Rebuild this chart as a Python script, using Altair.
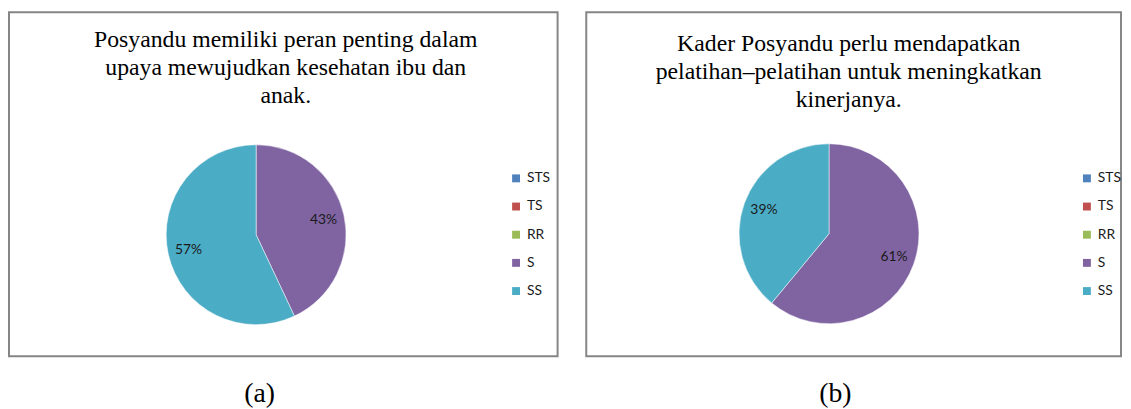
import altair as alt
import pandas as pd

categories = ["STS", "TS", "RR", "S", "SS"]
colors = ["#4F81BD", "#C0504D", "#9BBB59", "#8064A2", "#4BACC6"]
values_a = [0, 0, 0, 43, 57]
values_b = [0, 0, 0, 61, 39]
title_a = ["Posyandu memiliki peran penting dalam", "upaya mewujudkan kesehatan ibu dan", "anak."]
title_b = ["Kader Posyandu perlu mendapatkan", "pelatihan\u2013pelatihan untuk meningkatkan", "kinerjanya."]
caption_a = "(a)"
caption_b = "(b)"

SERIF = "Liberation Serif"
SANS = "Lato"
VIEW = {"stroke": "#858585", "strokeWidth": 2}


def panel(values, title_lines, caption, w, h, cx, cy, tx, ty, lx, capx):
    df = pd.DataFrame({"cat": categories, "val": values, "idx": list(range(len(categories)))})
    df["label"] = [f"{v}%" if v > 0 else "" for v in values]
    color = alt.Color(
        "cat:N",
        scale=alt.Scale(domain=categories, range=colors),
        sort=categories,
        legend=alt.Legend(
            title=None,
            orient="none",
            legendX=lx,
            legendY=161,
            symbolType="square",
            symbolSize=64,
            symbolStrokeWidth=0,
            labelFont=SANS,
            labelFontSize=14,
            labelColor="#1a1a1a",
            labelOffset=4,
            rowPadding=14.5,
            padding=0,
        ),
    )
    base = alt.Chart(df)
    arc = base.mark_arc(outerRadius=91, stroke="white", strokeWidth=0.5).encode(
        theta=alt.Theta("val:Q", stack=True),
        color=color,
        order=alt.Order("idx:Q"),
        x=alt.value(cx),
        y=alt.value(cy),
    )
    labels = base.mark_text(radius=70, font=SANS, fontSize=14, color="#1a1a1a").encode(
        theta=alt.Theta("val:Q", stack=True),
        order=alt.Order("idx:Q"),
        text="label:N",
        x=alt.value(cx),
        y=alt.value(cy),
    )
    tdf = pd.DataFrame({"t": ["\n".join(title_lines)]})
    title = alt.Chart(tdf).mark_text(
        font=SERIF, fontSize=24, lineBreak="\n", lineHeight=28.5,
        baseline="alphabetic", align="center", color="black",
    ).encode(text="t:N", x=alt.value(tx), y=alt.value(ty))
    cdf = pd.DataFrame({"c": [caption]})
    cap = alt.Chart(cdf).mark_text(
        font=SERIF, fontSize=28, baseline="middle", align="center", color="black",
    ).encode(text="c:N", x=alt.value(capx), y=alt.value(386))
    return alt.layer(arc, labels, title, cap).properties(width=w, height=h, view=VIEW)


pa = panel(values_a, title_a, caption_a, 555, 348, 250, 225, 280, 35, 506, 253.5)
pb = panel(values_b, title_b, caption_b, 541, 348, 245.6, 224, 265.5, 39, 499.5, 252)

chart = (
    alt.hconcat(pa, pb, spacing=27)
    .resolve_scale(color="independent")
    .resolve_legend(color="independent")
    .properties(padding={"left": 0, "top": 1, "right": 0, "bottom": 0})
    .configure_view(stroke="#858585", strokeWidth=2)
    .configure(background="white")
)

chart.save("out.html", embed_options={"renderer": "svg", "actions": False})
